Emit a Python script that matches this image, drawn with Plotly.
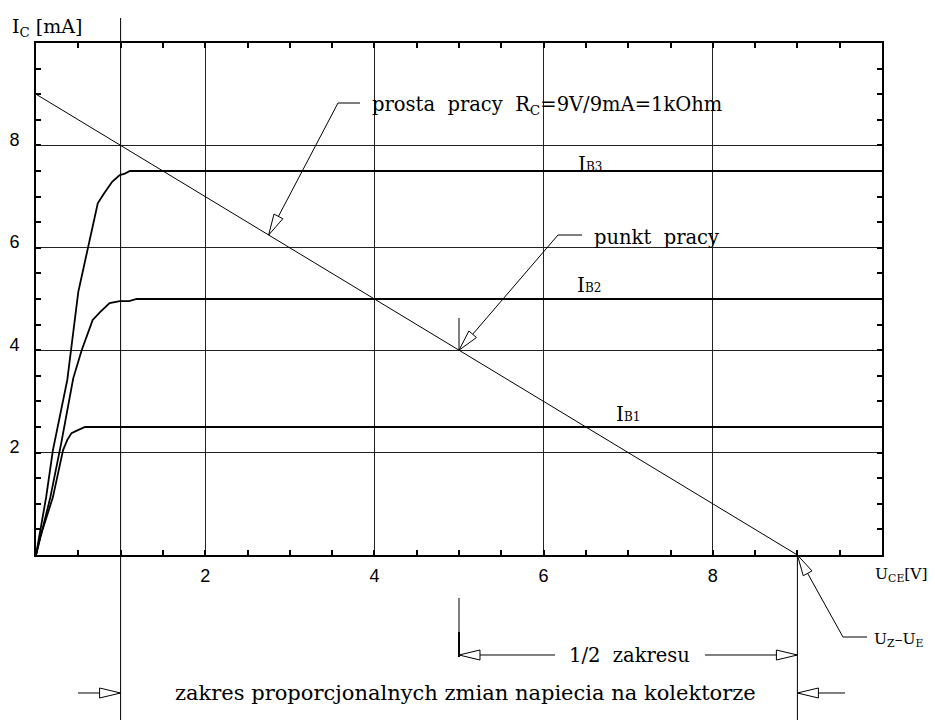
import math
import plotly.graph_objects as go

# ---------------- data ----------------
V_IB1 = [0, 0.05, 0.20, 0.32, 0.37, 0.42, 0.47, 0.52, 0.58, 10]
I_IB1 = [0, 0.35, 1.13, 2.05, 2.25, 2.38, 2.42, 2.46, 2.50, 2.50]

V_IB2 = [0, 0.17, 0.30, 0.44, 0.54, 0.67, 0.76, 0.87, 0.99, 1.10, 1.19, 10]
I_IB2 = [0, 1.13, 2.20, 3.45, 4.00, 4.59, 4.75, 4.92, 4.96, 4.96, 5.00, 5.00]

V_IB3 = [0, 0.12, 0.20, 0.37, 0.50, 0.61, 0.68, 0.73, 0.80, 0.90, 0.99, 1.05, 1.11, 10]
I_IB3 = [0, 1.13, 2.05, 3.42, 5.14, 5.96, 6.54, 6.87, 7.05, 7.29, 7.42, 7.45, 7.50, 7.50]

LOAD_V = [0, 9]
LOAD_I = [9, 0]

X_TICKS = [2, 4, 6, 8]
Y_TICKS = [2, 4, 6, 8]
X_RANGE = [0, 10]
Y_RANGE = [0, 10]

# ---------------- geometry helpers ----------------
# page body has an 8px margin; the figure is sized so it fits the window
PAGE_OFF = 8
WIN_W, WIN_H = 935, 720
W, H = WIN_W - PAGE_OFF, WIN_H - PAGE_OFF
L, T, PR, PB = 36, 43, 882, 555          # plot area in window pixels
PW, PH = PR - L, PB - T
M_L, M_T = L - PAGE_OFF, T - PAGE_OFF
M_R, M_B = W - (PR - PAGE_OFF), H - (PB - PAGE_OFF)


def dpx(x):
    return L + (x - X_RANGE[0]) / (X_RANGE[1] - X_RANGE[0]) * PW


def dpy(y):
    return T + PH - (y - Y_RANGE[0]) / (Y_RANGE[1] - Y_RANGE[0]) * PH


def pap(px, py):
    return (px - L) / PW, (T + PH - py) / PH


shapes = []
BLK = "black"


def pline(pts, width=1, color=BLK):
    d = ""
    for i, (px, py) in enumerate(pts):
        xp, yp = pap(px, py)
        d += ("M" if i == 0 else " L") + f"{xp:.5f},{yp:.5f}"
    shapes.append(dict(type="path", xref="paper", yref="paper", path=d,
                       line=dict(color=color, width=width)))


def harrow(tip, toward, length=21, hw=5):
    """hollow triangle arrowhead, tip in px, pointing away from 'toward'"""
    tx, ty = tip
    dx, dy = toward[0] - tx, toward[1] - ty
    n = math.hypot(dx, dy)
    ux, uy = dx / n, dy / n
    bx, by = tx + ux * length, ty + uy * length
    p1 = (bx - uy * hw, by + ux * hw)
    p2 = (bx + uy * hw, by - ux * hw)
    d = ""
    for i, (px, py) in enumerate([tip, p1, p2]):
        xp, yp = pap(px, py)
        d += ("M" if i == 0 else " L") + f"{xp:.5f},{yp:.5f}"
    d += " Z"
    shapes.append(dict(type="path", xref="paper", yref="paper", path=d,
                       fillcolor="white", line=dict(color=BLK, width=1)))


# ---------------- figure ----------------
fig = go.Figure()
for v, i in [(V_IB1, I_IB1), (V_IB2, I_IB2), (V_IB3, I_IB3)]:
    fig.add_trace(go.Scatter(x=v, y=i, mode="lines",
                             line=dict(color=BLK, width=1.8), hoverinfo="skip"))
fig.add_trace(go.Scatter(x=LOAD_V, y=LOAD_I, mode="lines",
                         line=dict(color=BLK, width=1), hoverinfo="skip"))

# extension / dimension lines
pline([(dpx(1), 18), (dpx(1), 720)])            # x=1 line
pline([(dpx(9), dpy(0)), (dpx(9), 720)])        # x=9 line
pline([(dpx(5), 318), (dpx(5), dpy(4))])        # above working point
pline([(dpx(5), 598), (dpx(5), 632)])
pline([(dpx(5), 632), (dpx(5), 657)], width=2)

# leaders
tip1 = (dpx(2.75), dpy(6.25)); el1 = (338, 103)
pline([tip1, el1, (360, 103)])
tip2 = (dpx(5), dpy(4)); el2 = (558, 235)
pline([tip2, el2, (582, 235)])
tip3 = (dpx(9), dpy(0)); el3 = (843, 637)
pline([tip3, el3, (867, 637)])

# 1/2 zakresu dimension
yd = 655
pline([(dpx(5), yd), (555, yd)])
pline([(705, yd), (dpx(9), yd)])
# bottom dimension
yb = 693
pline([(78, yb), (dpx(1), yb)])
pline([(845, yb), (dpx(9), yb)])

harrow(tip1, el1)
harrow(tip2, el2)
harrow(tip3, el3)
harrow((dpx(5), yd), (555, yd))
harrow((dpx(9), yd), (705, yd))
harrow((dpx(1), yb), (78, yb))
harrow((dpx(9), yb), (845, yb))

SERIF = "DejaVu Serif"


def ann(text, px, py, size=20, family=SERIF, xanchor="left"):
    xp, yp = pap(px, py)
    fig.add_annotation(text=text, x=xp, y=yp, xref="paper", yref="paper",
                       showarrow=False, xanchor=xanchor, yanchor="middle",
                       font=dict(family=family, size=size, color=BLK))


ann("prosta  pracy  R<sub>C</sub>=9V/9mA=1kOhm", 370, 105, size=19.5)
ann("punkt  pracy", 592, 237, size=19.5)
ann("1/2  zakresu", 629, yd, size=19.5, xanchor="center")
ann("zakres proporcjonalnych zmian napiecia na kolektorze", 466, yb, size=21,
    xanchor="center")
ann("I<span style='font-size:12px'>B3</span>", 576, 164, size=20)
ann("I<span style='font-size:12px'>B2</span>", 575, 285, size=20)
ann("I<span style='font-size:12px'>B1</span>", 614, 414, size=20)
ann("U<sub>Z</sub>\u2013U<sub>E</sub>", 872, 640, size=15.5)
ann("U<sub>CE</sub>[V]", 873, 575, size=15.5)
ann("I<sub>C</sub> [mA]", 10, 27, size=19)

axis_common = dict(
    showline=True, linecolor=BLK, linewidth=2, mirror="ticks",
    ticks="inside", ticklen=5, tickcolor=BLK, tickwidth=1.5,
    showgrid=True, gridcolor="#222", gridwidth=1, zeroline=False,
    automargin=False,
    tickfont=dict(family="Liberation Sans", size=18, color=BLK),
    minor=dict(dtick=0.5, tick0=0, ticks="inside", ticklen=5,
               tickcolor=BLK, tickwidth=1.5, showgrid=False),
)
fig.update_xaxes(range=X_RANGE, tickvals=X_TICKS, ticktext=[str(v) for v in X_TICKS],
                 ticklabelstandoff=3, **axis_common)
fig.update_yaxes(range=Y_RANGE, tickvals=Y_TICKS, ticktext=[str(v) for v in Y_TICKS],
                 ticklabelstandoff=11, ticklabelshift=-6, **axis_common)

fig.update_layout(width=W, height=H, margin=dict(l=M_L, r=M_R, t=M_T, b=M_B),
                  paper_bgcolor="white", plot_bgcolor="white",
                  showlegend=False, shapes=shapes)
fig.write_html("out.html")
